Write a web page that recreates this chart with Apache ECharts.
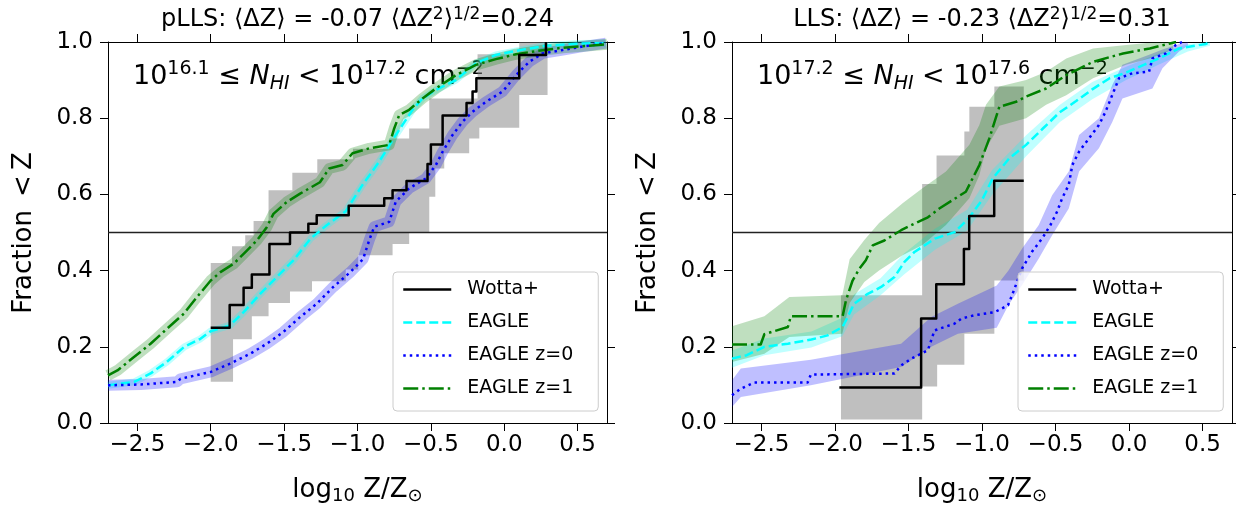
<!DOCTYPE html>
<html lang="en">
<head>
<meta charset="utf-8">
<title>Fraction &lt; Z</title>
<script src="https://cdn.jsdelivr.net/npm/echarts@6/dist/echarts.min.js"></script>
<style>
  html, body { margin: 0; background: #fff; }
  #chart { width: 1236px; height: 510px; }
</style>
</head>
<body>
<div id="chart"></div>
<script>
// axes
var xTicks = [-2.5, -2.0, -1.5, -1.0, -0.5, 0.0, 0.5];
var xMin = -2.7, xMax = 0.7;
var halfLine = 0.5;
var legendNames = ['Wotta+', 'EAGLE', 'EAGLE z=0', 'EAGLE z=1'];

// ---- pLLS panel ----
var pWottaX = [-2.00, -1.871, -1.776, -1.72, -1.60, -1.46, -1.335, -1.278, -1.06, -0.818, -0.761, -0.666, -0.523, -0.50, -0.42, -0.257, -0.216, -0.19, 0.102, 0.284];
var pWottaY = [0.25, 0.31, 0.355, 0.39, 0.47, 0.50, 0.523, 0.545, 0.57, 0.59, 0.611, 0.635, 0.68, 0.731, 0.807, 0.84, 0.87, 0.905, 0.966, 1.0];
var pWottaHiX = [-2.0, -1.855, -1.765, -1.708, -1.606, -1.444, -1.274, -1.031, -0.784, -0.648, -0.511, -0.182, 0.102];
var pWottaHiY = [0.42, 0.464, 0.493, 0.53, 0.611, 0.657, 0.692, 0.72, 0.747, 0.773, 0.852, 0.968, 1.0];
var pWottaLoX = [-2.0, -1.848, -1.72, -1.606, -1.46, -1.31, -1.08, -0.995, -0.761, -0.648, -0.511, -0.47, -0.409, -0.239, -0.17, 0.102];
var pWottaLoY = [0.108, 0.22, 0.28, 0.315, 0.345, 0.372, 0.403, 0.44, 0.47, 0.5, 0.594, 0.668, 0.708, 0.747, 0.775, 0.861];
var pWottaEnd = 0.295;

var pEagleX = [-2.7, -2.52, -2.41, -2.30, -2.18, -2.07, -2.0, -1.87, -1.776, -1.66, -1.55, -1.437, -1.32, -1.21, -1.08, -0.966, -0.852, -0.739, -0.625, -0.557, -0.466, -0.33, -0.193, -0.057, 0.125, 0.284, 0.51, 0.69];
var pEagleY = [0.099, 0.108, 0.13, 0.16, 0.2, 0.221, 0.241, 0.256, 0.291, 0.34, 0.383, 0.427, 0.484, 0.519, 0.556, 0.625, 0.686, 0.756, 0.822, 0.852, 0.874, 0.90, 0.944, 0.966, 0.98, 0.99, 0.996, 0.997];

var pZ0X = [-2.7, -2.477, -2.228, -2.206, -2.0, -1.867, -1.73, -1.618, -1.505, -1.391, -1.278, -1.165, -1.052, -0.962, -0.92, -0.886, -0.784, -0.739, -0.648, -0.534, -0.466, -0.42, -0.352, -0.284, -0.216, -0.125, -0.011, 0.08, 0.17, 0.261, 0.398, 0.534, 0.693];
var pZ0Y = [0.099, 0.101, 0.108, 0.116, 0.134, 0.156, 0.182, 0.208, 0.239, 0.278, 0.313, 0.357, 0.395, 0.43, 0.48, 0.515, 0.528, 0.581, 0.616, 0.642, 0.677, 0.712, 0.756, 0.791, 0.817, 0.843, 0.87, 0.913, 0.948, 0.97, 0.979, 0.988, 0.997];

var pZ1X = [-2.7, -2.636, -2.523, -2.41, -2.296, -2.183, -2.093, -2.0, -1.934, -1.844, -1.776, -1.686, -1.618, -1.573, -1.482, -1.391, -1.256, -1.193, -1.102, -1.034, -0.92, -0.784, -0.75, -0.716, -0.648, -0.557, -0.466, -0.33, -0.193, -0.057, 0.08, 0.216, 0.398, 0.58, 0.7];
var pZ1Y = [0.125, 0.138, 0.173, 0.208, 0.248, 0.287, 0.331, 0.374, 0.396, 0.418, 0.444, 0.479, 0.514, 0.549, 0.58, 0.602, 0.632, 0.668, 0.677, 0.708, 0.721, 0.73, 0.773, 0.808, 0.822, 0.852, 0.878, 0.913, 0.94, 0.955, 0.968, 0.976, 0.985, 0.99, 0.994];

// ---- LLS panel ----
var lWottaX = [-1.97, -1.414, -1.311, -1.123, -1.087, -0.917, -0.716];
var lWottaY = [0.093, 0.274, 0.364, 0.457, 0.543, 0.636, 0.636];
var lWottaHiX = [-1.959, -1.407, -1.309, -1.12, -1.086, -0.916];
var lWottaHiY = [0.335, 0.627, 0.702, 0.765, 0.83, 0.883];
var lWottaLoX = [-1.959, -1.407, -1.305, -1.12, -0.916];
var lWottaLoY = [0.009, 0.096, 0.153, 0.234, 0.374];
var lWottaEnd = -0.716;

var lEagleX = [-2.7, -2.6, -2.48, -2.32, -2.16, -2.05, -1.948, -1.914, -1.87, -1.777, -1.686, -1.595, -1.527, -1.459, -1.32, -1.186, -1.095, -1.0, -0.927, -0.814, -0.7, -0.586, -0.473, -0.36, -0.245, -0.132, -0.018, 0.1, 0.205, 0.34, 0.523, 0.55];
var lEagleY = [0.169, 0.178, 0.2, 0.208, 0.219, 0.23, 0.252, 0.278, 0.313, 0.339, 0.357, 0.383, 0.423, 0.449, 0.484, 0.501, 0.535, 0.585, 0.642, 0.695, 0.73, 0.773, 0.815, 0.845, 0.877, 0.905, 0.92, 0.94, 0.957, 0.983, 0.995, 1.0];
var lEagleBandX = [-2.7, -2.48, -2.16, -1.95, -1.87, -1.69, -1.53, -1.32, -1.1, -0.93, -0.7, -0.47, -0.25, -0.02, 0.2, 0.4, 0.55];
var lEagleLo = [0.145, 0.178, 0.198, 0.228, 0.285, 0.335, 0.39, 0.455, 0.505, 0.6, 0.7, 0.79, 0.85, 0.9, 0.94, 0.975, 0.99];
var lEagleHi = [0.19, 0.222, 0.24, 0.276, 0.338, 0.38, 0.445, 0.51, 0.56, 0.665, 0.755, 0.835, 0.895, 0.935, 0.97, 0.995, 1.0];

var lZ0X = [-2.7, -2.64, -2.55, -2.186, -2.164, -1.595, -1.55, -1.48, -1.368, -1.323, -1.186, -1.14, -1.05, -0.914, -0.823, -0.795, -0.727, -0.659, -0.59, -0.534, -0.489, -0.455, -0.41, -0.386, -0.34, -0.273, -0.205, -0.16, -0.114, -0.068, 0.023, 0.136, 0.159, 0.25, 0.318, 0.36];
var lZ0Y = [0.073, 0.09, 0.106, 0.106, 0.127, 0.13, 0.151, 0.169, 0.191, 0.243, 0.261, 0.274, 0.283, 0.291, 0.309, 0.336, 0.406, 0.45, 0.485, 0.52, 0.555, 0.59, 0.625, 0.677, 0.712, 0.747, 0.782, 0.817, 0.861, 0.905, 0.918, 0.922, 0.957, 0.97, 0.992, 1.0];
var lZ0BandX = [-2.7, -2.64, -2.164, -1.55, -1.345, -1.164, -0.9, -0.82, -0.727, -0.614, -0.523, -0.41, -0.34, -0.205, -0.114, -0.045, 0.159, 0.227, 0.34, 0.4];
var lZ0Hi = [0.112, 0.143, 0.166, 0.208, 0.278, 0.313, 0.361, 0.40, 0.458, 0.52, 0.598, 0.66, 0.756, 0.80, 0.887, 0.94, 0.97, 0.98, 0.995, 1.0];
var lZ0Lo = [0.042, 0.068, 0.099, 0.147, 0.2, 0.234, 0.25, 0.31, 0.362, 0.432, 0.493, 0.563, 0.66, 0.721, 0.79, 0.852, 0.878, 0.931, 0.975, 0.99];

var lZ1X = [-2.7, -2.505, -2.48, -2.32, -2.30, -1.948, -1.925, -1.88, -1.834, -1.79, -1.743, -1.664, -1.55, -1.46, -1.368, -1.29, -1.11, -1.018, -0.95, -0.882, -0.768, -0.7, -0.564, -0.427, -0.245, -0.041, 0.141, 0.32];
var lZ1Y = [0.206, 0.206, 0.233, 0.252, 0.28, 0.28, 0.322, 0.374, 0.405, 0.427, 0.466, 0.479, 0.506, 0.523, 0.54, 0.563, 0.607, 0.677, 0.747, 0.83, 0.843, 0.857, 0.878, 0.913, 0.948, 0.97, 0.983, 1.0];
var lZ1BandX = [-2.7, -2.48, -2.31, -1.95, -1.90, -1.80, -1.70, -1.54, -1.405, -1.245, -1.086, -1.018, -0.973, -0.882, -0.70, -0.564, -0.427, -0.245, -0.02, 0.14, 0.3];
var lZ1Hi = [0.254, 0.28, 0.331, 0.335, 0.43, 0.48, 0.525, 0.577, 0.616, 0.66, 0.73, 0.782, 0.835, 0.883, 0.90, 0.922, 0.957, 0.983, 0.992, 0.998, 1.0];
var lZ1Lo = [0.16, 0.182, 0.226, 0.234, 0.315, 0.37, 0.40, 0.44, 0.467, 0.52, 0.59, 0.65, 0.72, 0.78, 0.80, 0.835, 0.86, 0.905, 0.94, 0.957, 0.98];

var FONT = 'DejaVu Sans';
var CYAN = '#00ffff', BLUE = '#0000ff', GREEN = '#008000';
var DASH = [9, 4], DOT = [2.5, 4], DASHDOT = [15, 4, 2.5, 4];

function pairs(xs, ys) {
  return xs.map(function (x, i) { return [x, ys[i]]; });
}
// post-step outline of a band edge
function stepEdge(xs, ys, xEnd) {
  var out = [];
  for (var i = 0; i < xs.length; i++) {
    out.push([xs[i], ys[i]]);
    out.push([i < xs.length - 1 ? xs[i + 1] : xEnd, ys[i]]);
  }
  return out;
}
function bandSeries(gi, upper, lower, color, alpha) {
  var pts = upper.concat(lower.slice().reverse());
  return {
    type: 'custom', xAxisIndex: gi * 2, yAxisIndex: gi * 2, silent: true, clip: true,
    data: [[0, 0]], animation: false,
    renderItem: function (params, api) {
      return {
        type: 'polygon',
        shape: { points: pts.map(function (p) { return api.coord(p); }) },
        style: { fill: color, opacity: alpha }
      };
    }
  };
}
function lineSeries(gi, name, xs, ys, color, type, step, width, opacity) {
  return {
    type: 'line', name: name, xAxisIndex: gi * 2, yAxisIndex: gi * 2,
    data: pairs(xs, ys), step: step || false, symbol: 'none', silent: true, animation: false,
    lineStyle: { color: color, width: width || 2.5, type: type || 'solid', opacity: opacity == null ? 1 : opacity, cap: 'butt', join: 'round' },
    itemStyle: { color: color }
  };
}
function fmtX(v) {
  return (v < 0 ? '\u2212' : '') + Math.abs(v).toFixed(1);
}

var grids = [
  { left: 108, top: 42, width: 499, height: 381, outerBoundsMode: 'none' },
  { left: 732, top: 42, width: 500, height: 381, outerBoundsMode: 'none' }
];
var xAxes = [], yAxes = [];
[0, 1].forEach(function (gi) {
  ['bottom', 'top'].forEach(function (pos) {
    xAxes.push({
      type: 'value', gridIndex: gi, position: pos, min: xMin, max: xMax,
      axisLine: { show: true, onZero: false, lineStyle: { color: '#000', width: 1 } },
      axisTick: { show: true, inside: false, length: 8, customValues: xTicks, lineStyle: { color: '#000', width: 1 } },
      axisLabel: { show: pos === 'bottom', customValues: xTicks, formatter: fmtX, fontSize: 23, fontFamily: FONT, color: '#000', margin: 11 },
      splitLine: { show: false }
    });
  });
  ['left', 'right'].forEach(function (pos) {
    yAxes.push({
      type: 'value', gridIndex: gi, position: pos, min: 0, max: 1, interval: 0.2,
      axisLine: { show: true, onZero: false, lineStyle: { color: '#000', width: 1 } },
      axisTick: { show: true, inside: false, length: 8, lineStyle: { color: '#000', width: 1 } },
      axisLabel: { show: pos === 'left', formatter: function (v) { return v.toFixed(1); }, fontSize: 23, fontFamily: FONT, color: '#000', margin: 15 },
      splitLine: { show: false }
    });
  });
});

var series = [
  // pLLS
  bandSeries(0, stepEdge(pWottaHiX, pWottaHiY, pWottaEnd), stepEdge(pWottaLoX, pWottaLoY, pWottaEnd), '#808080', 0.5),
  lineSeries(0, 'band', pEagleX, pEagleY, CYAN, 'solid', false, 7, 0.25),
  lineSeries(0, 'band', pZ0X, pZ0Y, BLUE, 'solid', false, 11, 0.25),
  lineSeries(0, 'band', pZ1X, pZ1Y, GREEN, 'solid', false, 11, 0.25),
  lineSeries(0, 'ref', [xMin, xMax], [halfLine, halfLine], '#222', 'solid', false, 1.5),
  lineSeries(0, 'EAGLE', pEagleX, pEagleY, CYAN, DASH),
  lineSeries(0, 'EAGLE z=0', pZ0X, pZ0Y, BLUE, DOT),
  lineSeries(0, 'EAGLE z=1', pZ1X, pZ1Y, GREEN, DASHDOT),
  lineSeries(0, 'Wotta+', pWottaX, pWottaY, '#000', 'solid', 'end'),
  // LLS
  bandSeries(1, stepEdge(lWottaHiX, lWottaHiY, lWottaEnd), stepEdge(lWottaLoX, lWottaLoY, lWottaEnd), '#808080', 0.5),
  bandSeries(1, pairs(lEagleBandX, lEagleHi), pairs(lEagleBandX, lEagleLo), CYAN, 0.25),
  bandSeries(1, pairs(lZ0BandX, lZ0Hi), pairs(lZ0BandX, lZ0Lo), BLUE, 0.25),
  bandSeries(1, pairs(lZ1BandX, lZ1Hi), pairs(lZ1BandX, lZ1Lo), GREEN, 0.25),
  lineSeries(1, 'ref', [xMin, xMax], [halfLine, halfLine], '#222', 'solid', false, 1.5),
  lineSeries(1, 'EAGLE', lEagleX, lEagleY, CYAN, DASH),
  lineSeries(1, 'EAGLE z=0', lZ0X, lZ0Y, BLUE, DOT),
  lineSeries(1, 'EAGLE z=1', lZ1X, lZ1Y, GREEN, DASHDOT),
  lineSeries(1, 'Wotta+', lWottaX, lWottaY, '#000', 'solid', 'end')
];

function legendAt(left) {
  return {
    left: left, top: 272, orient: 'vertical', data: legendNames, selectedMode: false,
    itemWidth: 48, itemHeight: 19, itemGap: 14, padding: [8, 25, 13, 9],
    backgroundColor: 'rgba(255,255,255,0.8)', borderColor: '#cccccc', borderWidth: 1, borderRadius: 4,
    itemStyle: { opacity: 0 },
    lineStyle: { width: 2.5 },
    textStyle: { fontSize: 19, fontFamily: FONT, color: '#000', padding: [0, 0, 0, 11] }
  };
}

function titleText(cx, label) {
  return {
    type: 'text', x: cx, y: 20, silent: true,
    style: {
      text: label, fontSize: 24, fontFamily: FONT, fill: '#000', align: 'center', verticalAlign: 'middle', lineHeight: 28,
      rich: { s: { fontSize: 17, fontFamily: FONT, verticalAlign: 'top', lineHeight: 17 } }
    }
  };
}
function densityText(x, lo, hi) {
  return {
    type: 'text', x: x, y: 77, silent: true,
    style: {
      text: '10{s|' + lo + '} \u2264 {i|N}{b|HI} < 10{s|' + hi + '} cm{s|\u22122}',
      fontSize: 27, fontFamily: FONT, fill: '#000', align: 'left', verticalAlign: 'middle', lineHeight: 34,
      rich: {
        s: { fontSize: 19, fontFamily: FONT, verticalAlign: 'top', lineHeight: 19 },
        i: { fontSize: 27, fontFamily: FONT, fontStyle: 'italic', lineHeight: 34 },
        b: { fontSize: 19, fontFamily: FONT, fontStyle: 'italic', verticalAlign: 'bottom', lineHeight: 22 }
      }
    }
  };
}
function xName(cx) {
  return {
    type: 'text', x: cx, y: 490, silent: true,
    style: {
      text: 'log{b|10} Z/Z{b|\u2299}', fontSize: 26, fontFamily: FONT, fill: '#000', align: 'center', verticalAlign: 'middle', lineHeight: 30,
      rich: { b: { fontSize: 18, fontFamily: FONT, verticalAlign: 'bottom', lineHeight: 20 } }
    }
  };
}
function yName(cx) {
  return {
    type: 'text', x: cx, y: 233, rotation: Math.PI / 2, silent: true,
    style: { text: 'Fraction\u2002<\u2009Z', fontSize: 26, fontFamily: FONT, fill: '#000', align: 'center', verticalAlign: 'middle' }
  };
}

var chart = echarts.init(document.getElementById('chart'));
chart.setOption({
  animation: false,
  backgroundColor: '#fff',
  grid: grids,
  xAxis: xAxes,
  yAxis: yAxes,
  legend: [legendAt(393), legendAt(1018)],
  series: series,
  graphic: [
    titleText(357.5, 'pLLS: \u27e8\u0394Z\u27e9 = -0.07 \u27e8\u0394Z{s|2}\u27e9{s|1/2}=0.24'),
    titleText(982, 'LLS: \u27e8\u0394Z\u27e9 = -0.23 \u27e8\u0394Z{s|2}\u27e9{s|1/2}=0.31'),
    densityText(133, '16.1', '17.2'),
    densityText(757, '17.2', '17.6'),
    xName(357.5), xName(982),
    yName(24), yName(648)
  ]
});
</script>
</body>
</html>
